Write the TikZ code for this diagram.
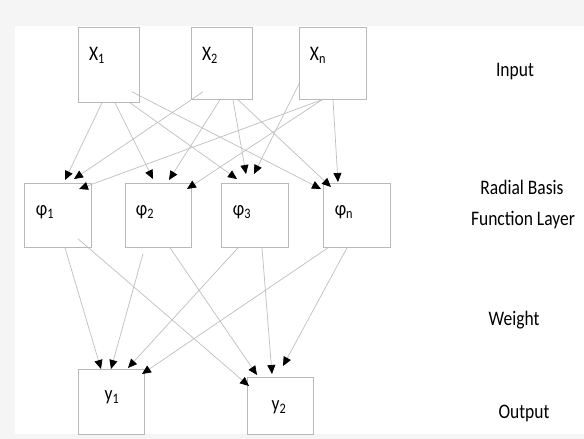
\documentclass[tikz,border=0pt]{standalone}
\usepackage{fontspec}
\setmainfont{Carlito}
\usetikzlibrary{arrows.meta}

\begin{document}
\begin{tikzpicture}[x=1pt, y=-1pt,
    box/.style={draw=gray!55, line width=0.8pt, inner sep=0pt, anchor=north west},
    lbl/.style={font=\fontsize{17.5}{20}\selectfont, inner sep=0pt, yscale=1.18, transform shape},
    conn/.style={draw=gray!50, line width=0.7pt, -{Triangle[length=9pt, width=8pt, color=black]}}]

    % 背景和白色画布
    \fill[gray!8] (0,0) rectangle (584,439);
    \fill[white] (15,26) rectangle (584,434);

    % 输入层
    \node[box, minimum width=61pt, minimum height=75pt] (x1) at (78,27) {};
    \node[box, minimum width=61pt, minimum height=72pt] (x2) at (191,27) {};
    \node[box, minimum width=67pt, minimum height=72pt] (xn) at (299,27) {};
    \node[lbl] (tx1) at (97,55) {X\textsubscript{1}};
    \node[lbl] (tx2) at (210,55) {X\textsubscript{2}};
    \node[lbl] (txn) at (318,55) {X\textsubscript{n}};

    % 径向基函数层
    \node[box, minimum width=67pt, minimum height=64pt] (p1) at (24,183) {};
    \node[box, minimum width=66pt, minimum height=64pt] (p2) at (125,183) {};
    \node[box, minimum width=67pt, minimum height=64pt] (p3) at (221,183) {};
    \node[box, minimum width=67pt, minimum height=64pt] (pn) at (323,183) {};
    \node[lbl] (tp1) at (45,212) {φ\textsubscript{1}};
    \node[lbl] (tp2) at (145,212) {φ\textsubscript{2}};
    \node[lbl] (tp3) at (242,212) {φ\textsubscript{3}};
    \node[lbl] (tpn) at (344,212) {φ\textsubscript{n}};

    % 输出层
    \node[box, minimum width=66pt, minimum height=65pt] (y1) at (78,369) {};
    \node[box, minimum width=66pt, minimum height=57pt] (y2) at (247,377) {};
    \node[lbl] (ty1) at (112,397) {y\textsubscript{1}};
    \node[lbl] (ty2) at (279,407) {y\textsubscript{2}};

    % 右侧说明文字
    \node[lbl] (input) at (515,72) {Input};
    \node[lbl] (rbf1) at (522,187) {Radial Basis};
    \node[lbl] (rbf2) at (523,220) {Function Layer};
    \node[lbl] (weight) at (514,320) {Weight};
    \node[lbl] (output) at (524,413) {Output};

    % 输入层 -> 径向基函数层
    \draw[conn] ([xshift=24]x1.south west) -- ([shift={(41,-3)}]p1.north west);
    \draw[conn] ([xshift=37]x1.south west) -- ([shift={(28,-4)}]p2.north west);
    \draw[conn] ([xshift=52]x1.south west) -- ([shift={(16,-4)}]p3.north west);
    \draw[conn] ([shift={(54,-11)}]x1.south west) -- ([shift={(-2,6)}]pn.north west);

    \draw[conn] ([shift={(12,-8)}]x2.south west) -- ([shift={(50,-4)}]p1.north west);
    \draw[conn] ([xshift=29]x2.south west) -- ([shift={(44,-3)}]p2.north west);
    \draw[conn] ([xshift=42]x2.south west) -- ([shift={(25,-9)}]p3.north west);
    \draw[conn] ([xshift=47]x2.south west) -- ([shift={(8,4)}]pn.north west);

    \draw[conn] ([xshift=23]xn.south west) -- ([shift={(55,6)}]p1.north west);
    \draw[conn] ([xshift=23]xn.south west) -- ([shift={(62,6)}]p2.north west);
    \draw[conn] ([shift={(0,-16)}]xn.south west) -- ([shift={(33,-9)}]p3.north west);
    \draw[conn] ([xshift=34]xn.south west) -- ([shift={(15,-1)}]pn.north west);

    % 径向基函数层 -> 输出层
    \draw[conn] ([xshift=41]p1.south west) -- ([xshift=23]y1.north west);
    \draw[conn] ([shift={(54,-9)}]p1.south west) -- ([shift={(2,9)}]y2.north west);
    \draw[conn] ([shift={(18,6)}]p2.south west) -- ([xshift=33]y1.north west);
    \draw[conn] ([xshift=45]p2.south west) -- ([shift={(10,-2)}]y2.north west);
    \draw[conn] ([xshift=17]p3.south west) -- ([shift={(50,-1)}]y1.north west);
    \draw[conn] ([xshift=41]p3.south west) -- ([shift={(25,-3)}]y2.north west);
    \draw[conn] ([xshift=5]pn.south west) -- ([shift={(64,5)}]y1.north west);
    \draw[conn] ([xshift=24]pn.south west) -- ([shift={(36,-11)}]y2.north west);
\end{tikzpicture}
\end{document}
